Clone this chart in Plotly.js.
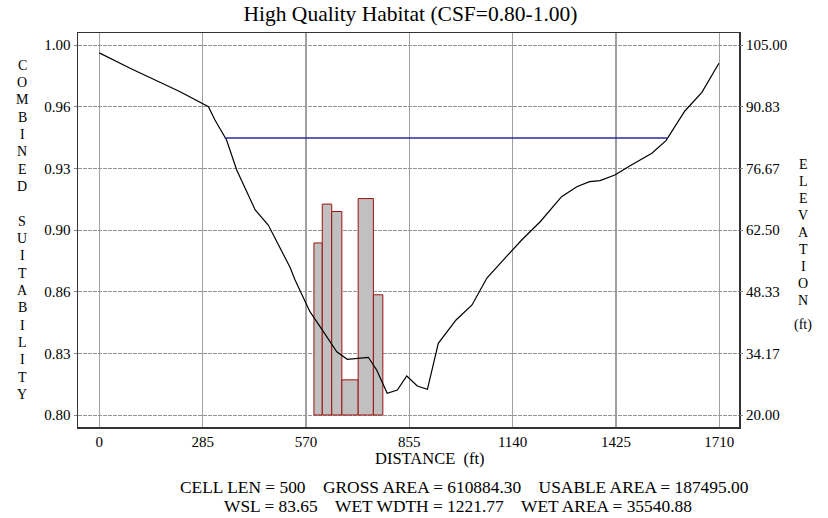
<!DOCTYPE html>
<html>
<head>
<meta charset="utf-8">
<script src="https://cdn.plot.ly/plotly-3.0.1.min.js"></script>
<style>html,body{margin:0;padding:0;background:#fff;}#chart{width:828px;height:518px;}</style>
</head>
<body>
<div id="chart"></div>
<script>
// ---- data ----
const distance = [0, 85, 223, 301, 319, 351, 379, 430, 466, 526, 540, 581, 618, 655, 684, 742, 765, 794, 822, 848, 877, 905, 935, 984, 1028, 1069, 1114, 1165, 1216, 1275, 1317, 1352, 1381, 1422, 1464, 1524, 1563, 1615, 1662, 1709];
const elevation = [103.2, 99.65, 94.27, 90.83, 87.77, 83.18, 76.28, 67.1, 63.65, 53.93, 51.0, 43.73, 39.14, 34.54, 32.8, 33.26, 30.34, 24.99, 25.74, 28.96, 26.66, 25.9, 36.47, 41.83, 45.27, 51.47, 55.6, 60.2, 64.4, 70.15, 72.45, 73.6, 73.83, 75.14, 77.27, 80.12, 83.02, 89.84, 94.13, 100.8];
const cellEdges = [592, 615, 641, 669, 714, 756, 782];
const suitability = [0.893, 0.914, 0.910, 0.819, 0.917, 0.865];
const suitBase = 0.80;
const wslExtent = [346, 1568];
const wsl = 83.65;
const xTicks = [0, 285, 570, 855, 1140, 1425, 1710];
const leftTickVals = [0.80, 0.83333, 0.86667, 0.90, 0.93333, 0.96667, 1.00];
const leftTickText = ['0.80', '0.83', '0.86', '0.90', '0.93', '0.96', '1.00'];
const rightTickVals = [20, 34.1667, 48.3333, 62.5, 76.6667, 90.8333, 105];
const rightTickText = ['20.00', '34.17', '48.33', '62.50', '76.67', '90.83', '105.00'];
const titleText = 'High Quality Habitat (CSF=0.80-1.00)';
const statsLine1 = ['CELL LEN = 500', 'GROSS AREA = 610884.30', 'USABLE AREA = 187495.00'];
const statsLine2 = ['WSL = 83.65', 'WET WDTH = 1221.77', 'WET AREA = 35540.88'];

// ---- geometry helpers ----
const L = 78, R = 739, T = 33, B = 427;
const px = x => (x - L) / (R - L);
const py = y => (B - y) / (B - T);
const FONT = 'Liberation Serif, Times New Roman, serif';

const centers = [], widths = [];
for (let i = 0; i < suitability.length; i++) {
  centers.push((cellEdges[i] + cellEdges[i + 1]) / 2);
  widths.push(cellEdges[i + 1] - cellEdges[i]);
}

const traces = [
  {
    type: 'bar', x: centers, y: suitability.map(s => s - suitBase), base: suitBase,
    width: widths, yaxis: 'y',
    marker: {color: '#c0c0c0', line: {color: '#a01010', width: 1}},
    hoverinfo: 'skip'
  },
  {
    type: 'scatter', mode: 'lines', x: distance, y: elevation, yaxis: 'y2',
    line: {color: '#000', width: 1.2}, hoverinfo: 'skip'
  },
  {
    type: 'scatter', mode: 'lines', x: wslExtent, y: [wsl, wsl], yaxis: 'y2',
    line: {color: '#2a2a9c', width: 1.5}, hoverinfo: 'skip'
  }
];

const annotations = [];
const leftLetters = 'COMBINED SUITABILITY'.split('');
leftLetters.forEach((c, i) => {
  if (c === ' ') return;
  annotations.push({xref: 'paper', yref: 'paper', x: px(22), y: py(65 + i * 17.35),
    text: c, showarrow: false, xanchor: 'center', yanchor: 'middle',
    font: {family: FONT, size: 14, color: '#000'}});
});
'ELEVATION'.split('').forEach((c, i) => {
  annotations.push({xref: 'paper', yref: 'paper', x: px(803), y: py(164 + i * 17),
    text: c, showarrow: false, xanchor: 'center', yanchor: 'middle',
    font: {family: FONT, size: 14, color: '#000'}});
});
annotations.push({xref: 'paper', yref: 'paper', x: px(803), y: py(325), text: '(ft)',
  showarrow: false, xanchor: 'center', yanchor: 'middle', font: {family: FONT, size: 14, color: '#000'}});
annotations.push({xref: 'paper', yref: 'paper', x: px(430), y: py(458), text: 'DISTANCE&nbsp; (ft)',
  showarrow: false, xanchor: 'center', yanchor: 'middle', font: {family: FONT, size: 16.5, color: '#000'}});
const sep = '&nbsp;&nbsp;&nbsp;&nbsp;';
annotations.push({xref: 'paper', yref: 'paper', x: px(464), y: py(487), text: statsLine1.join(sep),
  showarrow: false, xanchor: 'center', yanchor: 'middle', font: {family: FONT, size: 17.4, color: '#000'}});
annotations.push({xref: 'paper', yref: 'paper', x: px(457.6), y: py(506.5), text: statsLine2.join(sep),
  showarrow: false, xanchor: 'center', yanchor: 'middle', font: {family: FONT, size: 17.4, color: '#000'}});

const layout = {
  width: 828, height: 518,
  margin: {l: L, r: 828 - R, t: T, b: 518 - B, pad: 0},
  paper_bgcolor: '#fff', plot_bgcolor: '#fff',
  showlegend: false,
  font: {family: FONT, size: 16, color: '#000'},
  title: {text: titleText, font: {family: FONT, size: 21.5, color: '#000'},
    xref: 'container', yref: 'container', x: 410.5 / 828, y: 1 - 13 / 518,
    xanchor: 'center', yanchor: 'middle'},
  bargap: 0,
  xaxis: {
    range: [(L - 99.3) / 0.36257, (R - 99.3) / 0.36257],
    tickvals: xTicks, ticktext: xTicks.map(String),
    ticks: '', showgrid: true, gridcolor: '#a0a0a0', gridwidth: 1.2,
    showline: true, mirror: true, linecolor: '#333', linewidth: 1.5,
    zeroline: false, tickfont: {family: FONT, size: 15, color: '#000'}
  },
  yaxis: {
    range: [0.80 - 12 / 1850, 1.00 + 12 / 1850],
    tickvals: leftTickVals, ticktext: leftTickText,
    ticks: 'outside', ticklen: 3, tickcolor: '#888', tickwidth: 1,
    showgrid: true, gridcolor: '#959595', gridwidth: 1, griddash: '4px,1px',
    showline: true, mirror: true, linecolor: '#333', linewidth: 1.5,
    zeroline: false, tickfont: {family: FONT, size: 15, color: '#000'}
  },
  yaxis2: {
    overlaying: 'y', side: 'right',
    range: [20 - 12 / 4.3529, 105 + 12 / 4.3529],
    tickvals: rightTickVals, ticktext: rightTickText,
    ticks: 'outside', ticklen: 3, tickcolor: '#888', tickwidth: 1,
    showgrid: false, zeroline: false, showline: false,
    tickfont: {family: FONT, size: 15, color: '#000'}
  },
  annotations: annotations
};

Plotly.newPlot('chart', traces, layout, {displayModeBar: false, staticPlot: true});
</script>
</body>
</html>
